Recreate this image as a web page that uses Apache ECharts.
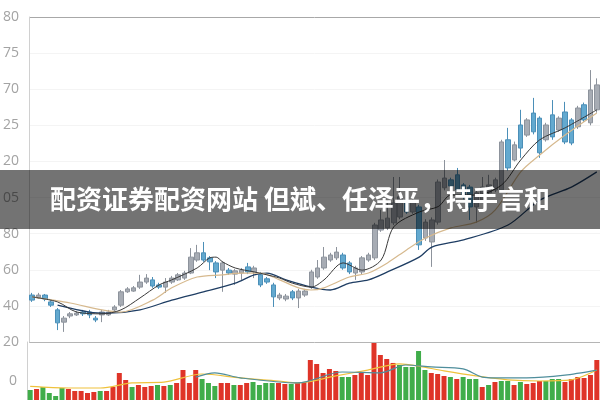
<!DOCTYPE html>
<html><head><meta charset="utf-8">
<script src="https://cdn.jsdelivr.net/npm/echarts@6/dist/echarts.min.js"></script>
<style>html,body{margin:0;padding:0;background:#fff}#c{width:600px;height:400px}</style>
</head><body><div id="c"></div>
<script>
const title = '配资证券配资网站 但斌、任泽平，持手言和';
const priceTickLabels = ['20','40','60','80','05','20','25','70','75','80'];
const volumeTickLabels = ['', '0', '', ''];

// [open, close, low, high]
const candles = [
[13.0,11.6,11.1,13.6],[12.2,13.0,11.9,13.6],[13.0,11.9,11.3,13.3],[11.1,10.2,9.7,11.6],[8.9,5.3,3.3,9.4],
[5.5,6.6,2.8,7.2],[7.2,7.8,6.6,8.3],[7.5,8.0,7.2,8.6],[8.3,7.8,7.2,8.9],[8.3,7.5,6.6,8.9],
[6.6,6.1,5.5,7.2],[7.5,8.3,5.5,8.9],[7.5,8.3,7.2,8.9],[8.9,9.7,8.3,10.2],[10.2,13.9,9.7,14.4],
[13.9,14.7,13.6,15.2],[14.1,15.0,13.9,15.5],[15.2,16.6,14.7,18.6],[16.6,17.7,16.1,18.8],[17.2,15.5,15.0,18.0],
[15.8,15.2,14.7,16.4],[15.2,16.6,13.6,17.7],[16.6,17.7,16.1,18.3],[17.2,18.6,16.9,19.1],[17.7,19.1,17.2,19.7],
[19.1,23.5,18.8,26.0],[22.7,24.7,22.2,26.9],[24.7,22.7,22.2,27.7],[23.3,22.2,19.9,23.8],[21.9,19.4,17.7,22.4],
[19.9,21.9,13.9,22.4],[19.9,19.1,18.6,20.5],[18.8,19.7,15.8,20.2],[19.1,19.9,17.2,20.5],[20.8,19.4,18.8,21.9],
[19.4,20.5,17.7,21.1],[18.6,15.8,15.2,19.4],[17.5,16.6,16.1,18.0],[15.8,12.5,9.7,16.4],[12.2,13.0,11.6,13.6],
[11.9,12.7,11.3,13.3],[13.9,12.2,11.6,14.4],[12.2,14.1,9.4,14.7],[13.0,14.1,12.5,14.7],[15.2,19.4,14.7,20.0],
[18.0,20.5,17.5,22.7],[20.5,23.5,20.0,26.3],[22.7,24.1,22.2,24.7],[23.3,24.9,22.7,26.3],[24.1,20.5,20.0,24.7],
[21.9,19.4,18.8,22.4],[19.1,20.5,17.2,21.1],[19.4,23.3,18.8,23.8],[22.7,24.1,22.2,24.7],[23.3,32.4,22.7,33.0],
[31.0,33.8,30.5,36.6],[31.6,34.3,31.0,39.3],[33.0,38.5,32.4,45.7],[34.6,40.2,34.0,45.7],[39.3,36.0,35.5,40.0],
[36.0,38.8,35.5,39.5],[37.4,26.9,25.5,38.0],[28.8,33.2,28.0,34.0],[27.7,33.8,20.8,34.5],[33.2,44.3,32.5,45.0],
[42.7,45.4,42.0,50.4],[44.9,43.2,42.5,45.5],[46.3,42.1,41.5,48.2],[43.5,40.2,39.5,44.0],[42.9,37.4,33.8,43.5],
[37.4,41.3,33.0,42.0],[39.3,42.9,38.8,45.7],[41.3,43.5,40.8,46.3],[42.1,44.9,41.5,45.5],[42.1,55.4,41.5,56.0],
[56.0,48.2,47.5,59.3],[50.4,54.6,50.0,55.5],[60.1,53.7,51.0,64.3],[57.3,61.5,56.8,62.0],[63.4,58.2,57.5,67.6],
[62.0,52.4,51.0,62.5],[56.0,60.1,55.5,60.7],[62.9,56.8,56.0,67.0],[58.7,62.0,58.2,62.5],[63.7,55.4,54.8,66.5],
[61.5,55.1,54.5,62.0],[59.6,64.8,59.0,65.4],[65.7,61.5,61.0,66.3],[60.7,69.8,60.0,75.3],[64.3,71.2,63.5,73.0]
];
const categories = candles.map((_, i) => 'D' + (i + 1));

const volumes = [
25.9,28.5,33.6,18.1,10.3,31.1,28.5,23.3,23.3,18.1,
20.7,23.3,23.3,33.6,69.8,51.8,33.6,38.8,33.6,36.2,
38.8,36.2,38.8,44.0,77.6,44.0,77.6,54.3,44.0,36.2,
44.0,44.0,38.8,38.8,44.0,46.5,38.8,44.0,44.0,44.0,
41.4,41.4,44.0,46.5,103.4,93.1,69.8,80.2,75.0,59.5,
59.5,64.7,69.8,64.7,147.4,116.4,106.0,95.8,90.5,85.4,
85.4,126.7,77.6,69.8,67.2,62.1,59.5,54.3,59.5,54.3,
54.3,33.6,38.8,46.5,49.2,49.2,38.8,46.5,41.4,44.0,
49.2,49.2,54.3,54.3,46.5,54.3,59.5,56.9,64.7,103.4
];
// 1 = red bar, 0 = green bar
const volumeRed = [
0,1,0,0,0,0,1,1,1,1,
1,0,1,1,1,1,0,1,1,1,
0,1,0,1,1,1,1,0,0,0,
1,1,0,1,1,0,0,0,0,1,
1,0,1,1,1,1,1,1,1,0,
0,1,1,1,1,1,1,1,0,0,
0,0,0,1,1,1,0,1,0,0,
0,1,0,1,0,0,1,0,1,1,
1,0,0,0,1,1,1,1,1,1
];

// moving-average lines: [category index, value]
const maShort = [[0,12.5],[4,11.1],[7,8.3],[11,7.8],[14,8.9],[17,12.2],[20,15.8],[22,17.2],[26,20.5],[28,23.3],[29,23.5],[30,22.2],[32,20.5],[35,19.4],[37,18.6],[39,17.7],[41,16.3],[44,15.2],[46,17.2],[49,21.9],[52,19.9],[55,22.7],[57,31.9],[61,36.0],[64,37.5],[66,40.7],[70,40.7],[74,43.5],[77,50.4],[80,56.0],[84,59.3],[89,64.3]];
const maMid = [[0,12.5],[6,10.8],[11,8.9],[14,8.3],[19,11.6],[22,15.0],[26,18.0],[30,18.6],[33,19.1],[36,19.1],[39,17.2],[42,15.0],[44,14.4],[46,15.0],[50,18.0],[53,19.1],[56,21.9],[59,25.5],[62,28.8],[66,31.6],[70,33.2],[73,36.6],[77,47.1],[80,51.8],[84,57.3],[89,63.4]];
const maLong = [[4,10.2],[9,8.3],[12,8.0],[17,8.9],[22,11.6],[27,13.9],[32,16.3],[35,18.6],[37,19.1],[40,17.2],[44,15.2],[47,14.4],[50,16.3],[53,17.2],[56,19.4],[61,23.5],[63,26.3],[68,28.3],[75,32.4],[80,39.3],[85,42.9],[89,47.1]];
const volMaShort = [[0,35.0],[6,31.0],[11,31.0],[16,44.1],[21,46.1],[27,67.3],[33,57.2],[39,49.2],[42,44.1],[48,62.3],[53,77.4],[58,93.5],[61,87.5],[65,75.4],[70,62.3],[75,52.2],[80,49.2],[85,52.2],[89,77.4]];
const volMaLong = [[26,59.2],[29,70.3],[33,57.2],[42,44.1],[49,72.4],[55,70.3],[59,90.5],[63,85.5],[68,80.4],[71,59.2],[73,57.2],[78,57.2],[84,64.3],[89,77.4]];

const chart = echarts.init(document.getElementById('c'));
const labelStyle = {color:'#a3a3a3', fontSize:14, fontFamily:'Open Sans', margin:10};
const splitColors = ['#b5b5b5','#f4f4f4','#f4f4f4','#f4f4f4','#f4f4f4','#f4f4f4','#f4f4f4','#f4f4f4','#f4f4f4','#a8a8a8'];
chart.setOption({
  animation:false,
  backgroundColor:'#fff',
  grid:[
    {left:27, top:17, width:573, height:325},
    {left:27, top:342, width:573, height:58}
  ],
  xAxis:[
    {type:'category', gridIndex:0, data:categories, boundaryGap:true, axisLine:{show:false}, axisTick:{show:false}, axisLabel:{show:false}, splitLine:{show:false}},
    {type:'category', gridIndex:1, data:categories, boundaryGap:true, axisLine:{show:false}, axisTick:{show:false}, axisLabel:{show:false}, splitLine:{show:false}}
  ],
  yAxis:[
    {type:'value', gridIndex:0, min:0, max:90, interval:10,
     axisLine:{show:true, lineStyle:{color:'#d0d0d0'}}, axisTick:{show:false},
     axisLabel:Object.assign({formatter:v => priceTickLabels[Math.round(v/10)]}, labelStyle),
     splitLine:{show:true, lineStyle:{color:splitColors, width:1}}},
    {type:'value', gridIndex:1, min:0, max:150, interval:50,
     axisLine:{show:true, lineStyle:{color:'#d0d0d0'}}, axisTick:{show:false},
     axisLabel:Object.assign({formatter:v => volumeTickLabels[Math.round(v/50)]}, labelStyle),
     splitLine:{show:false}}
  ],
  series:[
    {type:'candlestick', xAxisIndex:0, yAxisIndex:0, data:candles, barWidth:5,
     itemStyle:{color:'#a7acb4', borderColor:'#8d939c', color0:'#63a9cf', borderColor0:'#4b8fb8', borderWidth:1}},
    {type:'line', xAxisIndex:0, yAxisIndex:0, data:maLong, showSymbol:false, smooth:0.3, lineStyle:{color:'#1e3d63', width:1.3}},
    {type:'line', xAxisIndex:0, yAxisIndex:0, data:maMid, showSymbol:false, smooth:0.3, lineStyle:{color:'#d6b98e', width:1.2}},
    {type:'line', xAxisIndex:0, yAxisIndex:0, data:maShort, showSymbol:false, smooth:0.3, lineStyle:{color:'#3a3a3a', width:1}},
    {type:'bar', xAxisIndex:1, yAxisIndex:1, barWidth:5,
     data:volumes.map((v,i)=>({value:v, itemStyle:{color: volumeRed[i] ? '#df3428' : '#40ad4a'}}))},
    {type:'line', xAxisIndex:1, yAxisIndex:1, data:volMaShort, showSymbol:false, smooth:0.3, lineStyle:{color:'#efc23c', width:1.2}},
    {type:'line', xAxisIndex:1, yAxisIndex:1, data:volMaLong, showSymbol:false, smooth:0.3, lineStyle:{color:'#4f8e9c', width:1.2}}
  ],
  graphic:[
    {type:'rect', left:0, top:170, z:100, shape:{width:600, height:59}, style:{fill:'rgba(0,0,0,0.55)'}},
    {type:'text', left:'center', top:186, z:101, style:{text:title, fill:'#ffffff', font:'bold 26px "Noto Sans CJK SC"'}}
  ]
});
</script>
</body></html>
